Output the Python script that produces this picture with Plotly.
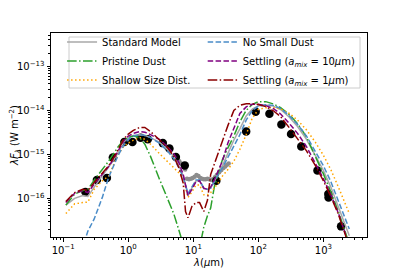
import plotly.graph_objects as go

# Model wavelength grid (micron)
lam_model = [0.11, 0.15, 0.2, 0.24, 0.3, 0.4, 0.5, 0.6, 0.7, 0.85, 1.0, 1.2, 1.5, 1.8, 2.2,
             3.0, 4.0, 5.0, 6.0, 7.0, 7.6, 8.3, 9.5, 11, 12.5, 14.5, 16.5, 18.5, 21, 24,
             28, 34, 42, 52, 65, 80, 100, 130, 170, 220, 300, 400, 550, 750, 1000, 1300,
             1700, 2200, 2500]

standard = [7e-17, 1e-16, 1.15e-16, 1.1e-16, 1.8e-16, 3.2e-16, 5e-16, 7.5e-16, 1.1e-15, 1.9e-15,
            2.4e-15, 2.7e-15, 2.8e-15, 2.7e-15, 2.4e-15, 1.9e-15, 1.3e-15, 9e-16, 5.5e-16, 3.2e-16,
            2e-16, 1.15e-16, 1.7e-16, 2.5e-16, 2.5e-16, 1.65e-16, 1.6e-16, 1.7e-16, 2.4e-16, 3.5e-16,
            5.5e-16, 1.05e-15, 2.1e-15, 3.8e-15, 7.5e-15, 1.05e-14, 1.28e-14, 1.32e-14, 1.25e-14,
            1.05e-14, 7e-15, 4.3e-15, 2.2e-15, 9.5e-16, 4.3e-16, 1.8e-16, 6.5e-17, 2.2e-17, 1.4e-17]

pristine = [7e-17, 1.25e-16, 1.5e-16, 1.6e-16, 2.6e-16, 4.5e-16, 7e-16, 1.05e-15, 1.5e-15, 2.1e-15,
            2.4e-15, 2.6e-15, 2.4e-15, 1.7e-15, 9e-16, 2.8e-16, 1e-16, 4.5e-17, 1.9e-17, 8e-18,
            5e-18, 3e-18, 2e-18, 3e-18, 8e-18, 2.2e-17, 4e-17, 6e-17, 1.8e-16, 3.5e-16,
            7.5e-16, 1.4e-15, 2.6e-15, 5.5e-15, 1e-14, 1.35e-14, 1.58e-14, 1.58e-14, 1.4e-14,
            1.15e-14, 8e-15, 5e-15, 2.5e-15, 9e-16, 3.6e-16, 1.4e-16, 5e-17, 1.6e-17, 9e-18]

shallow = [4.5e-17, 7.5e-17, 8e-17, 8.2e-17, 1.6e-16, 2.5e-16, 3.2e-16, 6e-16, 1e-15, 1.5e-15,
           1.8e-15, 2.1e-15, 2.4e-15, 2.2e-15, 1.7e-15, 1.05e-15, 7e-16, 5e-16, 3.8e-16, 2.7e-16,
           1.8e-16, 1.05e-16, 1.4e-16, 2e-16, 2e-16, 1.2e-16, 1.2e-16, 1.35e-16, 1.7e-16, 2.2e-16,
           3.2e-16, 4.5e-16, 7e-16, 1.3e-15, 2.8e-15, 6.5e-15, 1.05e-14, 1.15e-14, 1.15e-14,
           1.08e-14, 8.5e-15, 6e-15, 3.6e-15, 1.9e-15, 9.5e-16, 4.5e-16, 1.8e-16, 7e-17, 4.5e-17]

no_small = [1e-18, 2e-18, 8e-18, 1.8e-17, 3.4e-17, 1.05e-16, 3e-16, 5.5e-16, 9.5e-16, 1.6e-15,
            2.2e-15, 2.6e-15, 2.8e-15, 2.7e-15, 2.4e-15, 1.8e-15, 1.2e-15, 8e-16, 5e-16, 3e-16,
            2e-16, 1.3e-16, 1.8e-16, 2.6e-16, 2.6e-16, 1.7e-16, 1.6e-16, 1.7e-16, 2.4e-16, 3.5e-16,
            5e-16, 8.5e-16, 1.5e-15, 2.8e-15, 6e-15, 9.8e-15, 1.25e-14, 1.35e-14, 1.3e-14,
            1.1e-14, 7.5e-15, 4.8e-15, 2.6e-15, 1.15e-15, 5.5e-16, 2.4e-16, 8.5e-17, 3e-17, 2e-17]

settling10 = [8e-17, 1.3e-16, 1.5e-16, 1.35e-16, 2.1e-16, 3.6e-16, 5.3e-16, 8e-16, 1.2e-15, 2e-15,
              2.6e-15, 3e-15, 3.3e-15, 3.2e-15, 2.8e-15, 2.2e-15, 1.5e-15, 1.05e-15, 6.5e-16, 3.5e-16,
              2e-16, 1.15e-16, 1.6e-16, 2.4e-16, 2.5e-16, 1.7e-16, 1.6e-16, 1.8e-16, 2.6e-16, 4e-16,
              7e-16, 1.8e-15, 4e-15, 8.5e-15, 1.2e-14, 1.38e-14, 1.38e-14, 1.28e-14, 1.1e-14,
              8.3e-15, 5e-15, 3e-15, 1.5e-15, 6.5e-16, 2.8e-16, 1.2e-16, 4.6e-17, 1.5e-17, 8e-18]

settling1 = [8.5e-17, 1.35e-16, 1.6e-16, 1.5e-16, 2.3e-16, 3.8e-16, 5.5e-16, 8.5e-16, 1.3e-15, 2.2e-15,
             2.9e-15, 3.5e-15, 4.1e-15, 4.1e-15, 3.3e-15, 2.2e-15, 1.45e-15, 9e-16, 5e-16, 2.2e-16,
             5e-17, 3.6e-17, 6.5e-17, 8e-17, 8e-17, 5e-17, 9e-17, 3.5e-16, 6e-16, 1.1e-15,
             2.2e-15, 4.5e-15, 1e-14, 1.3e-14, 1.42e-14, 1.42e-14, 1.36e-14, 1.22e-14, 9.8e-15,
             7.2e-15, 4e-15, 2.3e-15, 1.2e-15, 5.6e-16, 2.5e-16, 1.1e-16, 4.3e-17, 1.4e-17, 7e-18]

# Photometry (black points)
lam_phot = [0.22, 0.33, 0.47, 0.58, 0.87, 1.16, 1.55, 2.0, 3.4, 4.3, 5.4, 7.4, 22.6, 65, 91,
            148, 226, 318, 457, 810, 1190, 1200, 1870]
flux_phot = [1.4e-16, 2.6e-16, 2.9e-16, 8.5e-16, 1.9e-15, 1.9e-15, 2.4e-15, 2.2e-15, 1.8e-15,
             1.35e-15, 8.7e-16, 5.6e-16, 2.5e-16, 3.3e-15, 9.3e-15, 8.4e-15, 4.8e-15, 2.9e-15,
             1.5e-15, 4.3e-16, 1.25e-16, 1.05e-16, 2.3e-17]

# Spectrum (grey points)
lam_spec = [5.3, 5.7, 6.1, 6.5, 7.0, 7.5, 8.0, 8.6, 9.2, 9.8, 10.5, 11.2, 12.0, 12.8, 13.6, 14.5,
            15.5, 16.5, 17.5, 18.7, 20, 21.5, 23, 25, 27, 29, 31, 33, 35]
flux_spec = [9e-16, 8e-16, 7e-16, 6.2e-16, 5.5e-16, 4.5e-16, 2.8e-16, 2.7e-16, 2.8e-16, 2.9e-16,
             3.1e-16, 3.4e-16, 3.2e-16, 2.9e-16, 2.8e-16, 2.7e-16, 2.7e-16, 2.8e-16, 2.7e-16,
             2.6e-16, 2.7e-16, 3e-16, 3.4e-16, 3.9e-16, 4.4e-16, 4.9e-16, 5.3e-16, 5.8e-16, 6.2e-16]

# Tick labels
x_tickvals = [0.1, 1, 10, 100, 1000]
x_ticktext = ["10<sup>−1</sup>", "10<sup>0</sup>", "10<sup>1</sup>", "10<sup>2</sup>", "10<sup>3</sup>"]
y_tickvals = [1e-16, 1e-15, 1e-14, 1e-13]
y_ticktext = ["10<sup>−16</sup>", "10<sup>−15</sup>", "10<sup>−14</sup>", "10<sup>−13</sup>"]

fig = go.Figure()
fig.add_trace(go.Scatter(x=lam_spec, y=flux_spec, mode="markers", showlegend=False,
                         marker=dict(color="#8c8c8c", size=4.5, line=dict(width=0))))
fig.add_trace(go.Scatter(x=lam_phot, y=flux_phot, mode="markers", showlegend=False,
                         marker=dict(color="black", size=8.5, line=dict(width=0))))

dashed = "5.5px,2.4px"
dashdot = "9.6px,2.4px,1.5px,2.4px"
dotted = "1.5px,2.5px"

models = [
    ("Standard Model", standard, "#a9a9a9", "solid", "legend"),
    ("Pristine Dust", pristine, "#2ca02c", dashdot, "legend"),
    ("Shallow Size Dist.", shallow, "orange", dotted, "legend"),
    ("No Small Dust", no_small, "#4a8cc8", dashed, "legend2"),
    ("Settling (<i>a</i><sub><i>mix</i></sub> = 10<i>μ</i>m)", settling10, "purple", dashed, "legend2"),
    ("Settling (<i>a</i><sub><i>mix</i></sub> = 1<i>μ</i>m)", settling1, "darkred", dashdot, "legend2"),
]
for name, vals, col, dash, lg in models:
    fig.add_trace(go.Scatter(x=lam_model, y=vals, mode="lines", name=name, legend=lg,
                             line=dict(color=col, width=1.5, dash=dash)))

axis_common = dict(type="log", showline=True, linecolor="black", linewidth=1, mirror=True,
                   ticks="outside", ticklen=3.5, tickwidth=0.8, tickcolor="black",
                   showgrid=False, zeroline=False, automargin=False,
                   tickfont=dict(family="DejaVu Sans", size=10, color="black"),
                   minor=dict(ticks="outside", ticklen=2, tickwidth=0.6, tickcolor="black",
                              dtick="D1", showgrid=False))

fig.update_xaxes(**axis_common, range=[-1.187, 3.67],
                 tickmode="array", tickvals=x_tickvals, ticktext=x_ticktext,
                 title=dict(text="<i>λ</i>(<i>μ</i>m)", standoff=4,
                            font=dict(family="DejaVu Sans", size=10, color="black")))
fig.update_yaxes(**axis_common, range=[-16.88, -12.24],
                 tickmode="array", tickvals=y_tickvals, ticktext=y_ticktext,
                 title=dict(text="<i>λF</i><sub><i>λ</i></sub> (W m<sup>−2</sup>)", standoff=4,
                            font=dict(family="DejaVu Sans", size=10, color="black")))

legend_style = dict(bgcolor="rgba(0,0,0,0)", borderwidth=0, xanchor="left", yanchor="top",
                    font=dict(family="DejaVu Sans", size=10, color="black"), tracegroupgap=0)
# page body adds an 8px offset, so the figure is 8px smaller and margins shifted accordingly
fig.update_layout(
    width=399, height=263,
    margin=dict(l=43, r=40, t=25, b=34, autoexpand=False),
    paper_bgcolor="white", plot_bgcolor="white",
    legend=dict(**legend_style, x=0.035, y=1.027),
    legend2=dict(**legend_style, x=0.48, y=1.027),
    shapes=[dict(type="rect", xref="paper", yref="paper",
                 x0=(69 - 51) / 316, x1=(360 - 51) / 316,
                 y0=1 - (88 - 33) / 204, y1=1 - (37 - 33) / 204,
                 line=dict(color="#cccccc", width=1), fillcolor="rgba(255,255,255,0.8)",
                 layer="above")],
)
fig.write_html("out.html")
